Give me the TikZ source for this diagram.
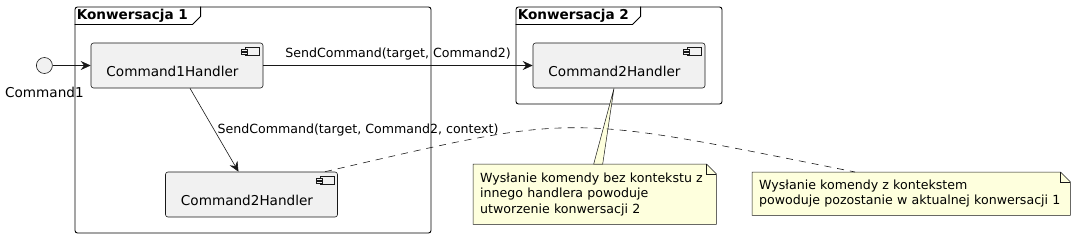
\documentclass[tikz,border=0pt]{standalone}
\usepackage{fontspec}
\setmainfont{DejaVu Sans}
\usetikzlibrary{arrows.meta,positioning,calc,backgrounds}
\definecolor{boxfill}{HTML}{F1F1F1}
\definecolor{edge}{HTML}{181818}
\definecolor{notefill}{HTML}{FEFFDD}
\tikzset{
  frame/.style={draw=black,line width=0.9pt,rounded corners=2.5pt,inner sep=0pt},
  framename/.style={anchor=west,inner sep=0pt,font=\fontsize{13.6}{16}\selectfont\bfseries},
  handler/.style={draw=edge,line width=0.6pt,fill=boxfill,rounded corners=2.5pt,
                  minimum width=172pt,minimum height=45pt,inner sep=0pt,
                  text height=22pt,text depth=0pt,font=\fontsize{13.6}{16}\selectfont,
                  execute at begin node=\hspace*{-9pt}},
  iface/.style={circle,draw=edge,line width=0.6pt,fill=boxfill,minimum size=16pt,inner sep=0pt},
  note/.style={inner xsep=7pt,inner ysep=0pt,align=left,anchor=north west,
               font=\fontsize{12.6}{15.5}\selectfont},
  notebox/.style={draw=edge,line width=0.5pt,fill=notefill},
  lbl/.style={font=\fontsize{12.6}{15}\selectfont,inner sep=0pt},
  arrow/.style={-{Stealth[length=10pt,width=9pt,inset=3.5pt]},line width=0.6pt,draw=edge}
}
% small component symbol in the upper right corner of a box
\newcommand{\compicon}[1]{
  \draw[edge,line width=0.5pt,fill=boxfill] ($(#1.north east)+(-18,5)$) rectangle ++(14,8);
  \draw[edge,line width=0.5pt,fill=boxfill] ($(#1.north east)+(-22,7)$) rectangle ++(6,2);
  \draw[edge,line width=0.5pt,fill=boxfill] ($(#1.north east)+(-22,10)$) rectangle ++(6,2);
}
% note outline with folded corner
\newcommand{\notefold}[1]{
  \begin{pgfonlayer}{background}
  \draw[notebox] (#1.south west) -- (#1.north west) -- ($(#1.north east)+(-10,0)$)
    -- ($(#1.north east)+(0,10)$) -- (#1.south east) -- cycle;
  \draw[edge,line width=0.5pt] ($(#1.north east)+(-10,0)$) |- ($(#1.north east)+(0,10)$);
  \end{pgfonlayer}
}

\begin{document}
\begin{tikzpicture}[x=1pt,y=-1pt]
\useasboundingbox (0,0) rectangle (1076,238);

% frames
\node[frame,minimum width=356pt,minimum height=226pt] (konwA) at (253,120) {};
\draw[black,line width=0.9pt] ($(konwA.north west)+(0,18)$) -- ++(118,0) -- ++(8,-8) -- ++(0,-10);
\node[framename] (konwAname) at ($(konwA.north west)+(2,9)$) {Konwersacja 1};
\node[frame,minimum width=206pt,minimum height=97pt] (konwB) at (619,55.5) {};
\draw[black,line width=0.9pt] ($(konwB.north west)+(0,18)$) -- ++(117,0) -- ++(8,-8) -- ++(0,-10);
\node[framename] (konwBname) at ($(konwB.north west)+(2,9)$) {Konwersacja 2};

% components
\node[handler] (handlerA) at (177,65.5) {Command1Handler};
\node[handler] (handlerB) at (619,65.5) {Command2Handler};
\node[handler] (handlerC) at (251.5,194.5) {Command2Handler};
\compicon{handlerA}
\compicon{handlerB}
\compicon{handlerC}
\node[iface,left=38pt of handlerA,
      label={[lbl,font=\fontsize{13.6}{16}\selectfont,label distance=13pt]below:Command1}] (cmdone) {};

% notes
\node[note,text width=229pt,minimum height=60pt] (noteA) at (473,164)
  {Wysłanie komendy bez kontekstu z\\innego handlera powoduje\\utworzenie konwersacji 2};
\notefold{noteA}
\node[note,text width=304pt,minimum height=43pt] (noteB) at (752,172)
  {Wysłanie komendy z kontekstem\\powoduje pozostanie w aktualnej konwersacji 1};
\notefold{noteB}

% connectors
\draw[arrow] (cmdone) -- (handlerA);
\draw[arrow] (handlerA) -- node[lbl,above=5pt] {SendCommand(target, Command2)} (handlerB);
\draw[arrow] ($(handlerA.south)+(13,0)$) -- node[lbl,right=3pt] {SendCommand(target, Command2, context)}
  ($(handlerC.north)+(-13,0)$);
\draw[edge,line width=0.5pt,fill=notefill] ($(handlerB.south)+(-5,0)$) -- ($(noteA.north)+(-1,0)$)
  -- ($(noteA.north)+(8,0)$) -- cycle;
\draw[edge,line width=0.6pt,dash pattern=on 7pt off 6pt] ($(handlerC.north)+(73.5,0)$)
  .. controls (580,113) and (560,113) .. ($(noteB.north west)+(103,0)$);
\end{tikzpicture}
\end{document}
